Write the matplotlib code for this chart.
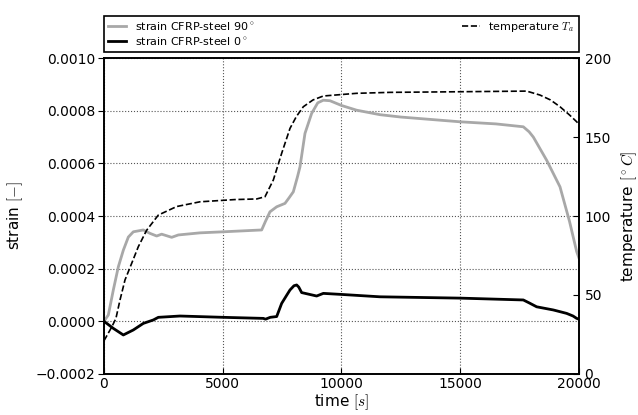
import numpy as np
import matplotlib
matplotlib.use('Agg')
import matplotlib.pyplot as plt

# strain CFRP-steel 90 deg
t_90 = [0, 183, 393, 604, 814, 1025, 1235, 1656, 1937, 2218, 2428, 2850, 3130,
        4042, 5025, 6639, 6800, 6989, 7271, 7621, 7800, 7972, 8150, 8253, 8463,
        8744, 9000, 9235, 9516, 10000, 10640, 11621, 12500, 14989, 16500,
        17656, 17900, 18077, 18638, 19200, 19600, 19902, 20000]
strain_90 = [0.0, 0.000024, 0.000119, 0.000207, 0.00027, 0.00032, 0.00034, 0.000347,
             0.000334, 0.000324, 0.000331, 0.000319, 0.000328, 0.000336, 0.00034,
             0.000347, 0.00038, 0.000416, 0.000435, 0.000448, 0.00047, 0.000492,
             0.00055, 0.000587, 0.000714, 0.00079, 0.00083, 0.00084, 0.000838,
             0.00082, 0.000802, 0.000785, 0.000776, 0.000758, 0.00075,
             0.000739, 0.00072, 0.0007, 0.000612, 0.000511, 0.00038, 0.000265,
             0.00024]

# strain CFRP-steel 0 deg
t_0 = [0, 393, 814, 1235, 1656, 2077, 2288, 3200, 5025,
       6709, 6800, 7000, 7271, 7481, 7700, 7832, 8000, 8112, 8200, 8323, 8954,
       9235, 10000, 11621, 14989, 17656, 17900, 18218, 18919, 19480, 19750,
       19902, 20000]
strain_0 = [0.0, -0.000027, -0.000052, -0.000033, -0.000008, 0.000005, 0.000015,
            0.00002, 0.000015, 0.000011,
            0.000008, 0.000015, 0.000018, 0.000068, 0.0001, 0.000119, 0.000135,
            0.000138, 0.00013, 0.000109, 0.000096, 0.000106, 0.000102, 0.000093,
            0.000088, 0.000081, 0.00007, 0.000055, 0.000043, 0.00003, 0.00002,
            0.000011, 0.000008]

# temperature T_a
t_temp = [0, 300, 500, 674, 884, 1165, 1446, 1796, 2288, 3060, 4042, 5500,
          6428, 6779, 7130, 7481, 7832, 8100, 8393, 8800, 9235, 10640, 12042,
          14989, 17796, 18358, 18800, 19200, 19600, 19902, 20000]
temp = [21, 29, 35, 46.8, 59.5, 70, 80.6, 91, 100.6, 106, 109, 110.4,
        110.8, 112.2, 122.8, 139.7, 155.5, 163, 169.2, 173.5, 176, 177.7, 178.3,
        178.7, 179.1, 176.6, 173.5, 169.2, 164, 159.7, 158]


def main():
    plt.rcParams['font.family'] = 'DejaVu Sans'
    plt.rcParams['mathtext.fontset'] = 'cm'
    plt.rcParams['font.size'] = 10

    fig = plt.figure(figsize=(6.38, 4.15), dpi=100)
    ax1 = fig.add_axes([0.163, 0.099, 0.7445, 0.761])
    ax2 = ax1.twinx()

    l1, = ax1.plot(t_90, strain_90, color='#a8a8a8', lw=2, label='strain CFRP-steel 90$^\\circ$')
    l2, = ax1.plot(t_0, strain_0, color='black', lw=2, label='strain CFRP-steel 0$^\\circ$')
    l3, = ax2.plot(t_temp, temp, color='black', lw=1.2, ls='--', label='temperature $T_a$')

    ax1.set_xlim(0, 20000)
    ax1.set_ylim(-0.0002, 0.0010)
    ax2.set_ylim(0, 200)
    ax1.set_xticks([0, 5000, 10000, 15000, 20000])
    ax1.set_yticks(np.arange(-0.0002, 0.00101, 0.0002))
    ax1.set_yticklabels(['\u22120.0002', '0.0000', '0.0002', '0.0004', '0.0006', '0.0008', '0.0010'])
    ax2.set_yticks([0, 50, 100, 150, 200])

    ax1.grid(True, color='#555555', ls=':', lw=0.8)
    ax1.tick_params(axis='x', direction='in', length=4, pad=2)
    ax1.tick_params(axis='y', direction='out', length=4, pad=2)
    ax2.tick_params(axis='y', direction='in', length=4, pad=4)
    for ax in (ax1, ax2):
        for s in ax.spines.values():
            s.set_linewidth(1.2)

    ax1.set_xlabel('time $[s]$', fontsize=11, labelpad=1)
    ax1.set_ylabel('strain $[-]$', fontsize=11, labelpad=8)
    ax2.set_ylabel('temperature $[^\\circ C]$', fontsize=11, labelpad=6)

    leg = ax1.legend([l1, l2, l3], [l1.get_label(), l2.get_label(), l3.get_label()],
                     ncol=2, mode='expand', fontsize=8,
                     bbox_to_anchor=(0.0, 1.02, 1.0, 0.11), loc='lower left',
                     borderaxespad=0, fancybox=False, framealpha=1,
                     handlelength=1.6, labelspacing=0.3)
    leg.get_frame().set_edgecolor('black')
    leg.get_frame().set_linewidth(1.2)

    fig.savefig('out.png', dpi=100)


if __name__ == '__main__': main()
